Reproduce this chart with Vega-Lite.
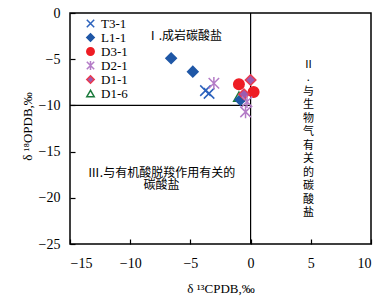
{
  "$schema": "https://vega.github.io/schema/vega-lite/v6.json",
  "width": 301,
  "height": 231,
  "autosize": "none",
  "padding": {"left": 70, "top": 13, "right": 20, "bottom": 55},
  "background": "white",
  "config": {
    "view": {"stroke": "black", "strokeWidth": 1.5},
    "axis": {
      "domain": false,
      "grid": false,
      "tickSize": -5,
      "tickColor": "black",
      "tickWidth": 1.2,
      "labelFont": "Liberation Serif",
      "labelFontSize": 14,
      "labelColor": "black",
      "titleFont": "Liberation Serif",
      "titleFontSize": 13,
      "titleFontWeight": "normal",
      "titleColor": "black"
    }
  },
  "datasets": {
    "pts": [
      {"well": "L1-1", "d13C": -6.6, "d18O": -4.9},
      {"well": "L1-1", "d13C": -4.8, "d18O": -6.35},
      {"well": "T3-1", "d13C": -3.75, "d18O": -8.4},
      {"well": "T3-1", "d13C": -3.45, "d18O": -8.7},
      {"well": "D2-1", "d13C": -3.05, "d18O": -7.6},
      {"well": "D3-1", "d13C": -0.97, "d18O": -7.7},
      {"well": "D3-1", "d13C": 0.25, "d18O": -8.55},
      {"well": "D1-1", "d13C": 0.0, "d18O": -7.25},
      {"well": "D1-6", "d13C": -0.97, "d18O": -9.05},
      {"well": "L1-1", "d13C": -0.85, "d18O": -9.4},
      {"well": "D1-1", "d13C": -0.55, "d18O": -8.8},
      {"well": "D2-1", "d13C": -0.3, "d18O": -9.6},
      {"well": "D2-1", "d13C": -0.42, "d18O": -10.7}
    ],
    "rules": [
      {"x": 0, "x2": 0, "y": -25, "y2": 0},
      {"x": -15, "x2": 0, "y": -10, "y2": -10}
    ],
    "labels": [
      {"x": -5.5, "y": -2.5, "label": "Ⅰ.成岩碳酸盐"},
      {"x": -7.4, "y": -17.3, "label": "Ⅲ.与有机酸脱羧作用有关的|碳酸盐"}
    ],
    "vlabels": [
      {"x": 4.8, "y": -5.6, "label": "Ⅱ|.|与|生|物|气|有|关|的|碳|酸|盐"}
    ]
  },
  "layer": [
    {
      "data": {"name": "rules"},
      "mark": {"type": "rule", "color": "black", "strokeWidth": 1.2},
      "encoding": {
        "x": {"field": "x", "type": "quantitative", "scale": {"domain": [-15, 10], "nice": false, "zero": false}, "axis": {"values": [-15, -10, -5, 0, 5, 10], "title": "δ ¹³CPDB,‰", "labelFont": "Liberation Serif", "titleFont": "Liberation Serif", "labelPadding": 17, "titlePadding": 12}},
        "x2": {"field": "x2"},
        "y": {"field": "y", "type": "quantitative", "scale": {"domain": [-25, 0], "nice": false, "zero": false}, "axis": {"values": [-25, -20, -15, -10, -5, 0], "title": "δ ¹⁸OPDB,‰", "labelFont": "Liberation Serif", "titleFont": "Liberation Serif", "labelPadding": 15, "titleX": -43, "titleY": 113, "titleAngle": 270, "titleAlign": "center", "titleBaseline": "middle"}},
        "y2": {"field": "y2"}
      }
    },
    {
      "data": {"name": "labels"},
      "mark": {"type": "text", "font": "Noto Sans CJK SC", "fontSize": 12, "lineBreak": "|", "lineHeight": 12, "color": "black", "align": "center", "baseline": "middle"},
      "encoding": {
        "x": {"field": "x", "type": "quantitative"},
        "y": {"field": "y", "type": "quantitative"},
        "text": {"field": "label"}
      }
    },
    {
      "data": {"name": "vlabels"},
      "mark": {"type": "text", "font": "Noto Sans CJK SC", "fontSize": 11, "lineBreak": "|", "lineHeight": 13.5, "color": "black", "align": "center", "baseline": "middle"},
      "encoding": {
        "x": {"field": "x", "type": "quantitative"},
        "y": {"field": "y", "type": "quantitative"},
        "text": {"field": "label"}
      }
    },
    {
      "data": {"name": "pts"},
      "mark": {"type": "point", "filled": false, "size": 110, "strokeWidth": 1.5, "opacity": 1},
      "encoding": {
        "x": {"field": "d13C", "type": "quantitative"},
        "y": {"field": "d18O", "type": "quantitative"},
        "shape": {"field": "well", "type": "nominal", "scale": {"domain": ["T3-1", "L1-1", "D3-1", "D2-1", "D1-1", "D1-6"], "range": ["M-1,-1L1,1M-1,1L1,-1", "diamond", "circle", "M-1,-1L1,1M-1,1L1,-1M0,-1.2L0,1.2", "diamond", "triangle-up"]}, "legend": {"orient": "none", "legendX": 14, "legendY": 4, "title": null, "labelFont": "Liberation Serif", "labelFontSize": 13, "labelColor": "black", "rowPadding": -1, "symbolSize": 55, "symbolStrokeWidth": 1.5, "labelOffset": 4}},
        "fill": {"field": "well", "type": "nominal", "scale": {"domain": ["T3-1", "L1-1", "D3-1", "D2-1", "D1-1", "D1-6"], "range": ["transparent", "#1f57a6", "#ee1d24", "transparent", "#9c5bb0", "transparent"]}, "legend": {"orient": "none", "legendX": 14, "legendY": 4, "title": null, "labelFont": "Liberation Serif", "labelFontSize": 13, "labelColor": "black", "rowPadding": -1, "symbolSize": 55, "symbolStrokeWidth": 1.5, "labelOffset": 4}},
        "stroke": {"field": "well", "type": "nominal", "scale": {"domain": ["T3-1", "L1-1", "D3-1", "D2-1", "D1-1", "D1-6"], "range": ["#2b62bd", "#1f57a6", "#ee1d24", "#b47cc7", "#e83a4f", "#1b7a3c"]}, "legend": {"orient": "none", "legendX": 14, "legendY": 4, "title": null, "labelFont": "Liberation Serif", "labelFontSize": 13, "labelColor": "black", "rowPadding": -1, "symbolSize": 55, "symbolStrokeWidth": 1.5, "labelOffset": 4}}
      }
    }
  ]
}
